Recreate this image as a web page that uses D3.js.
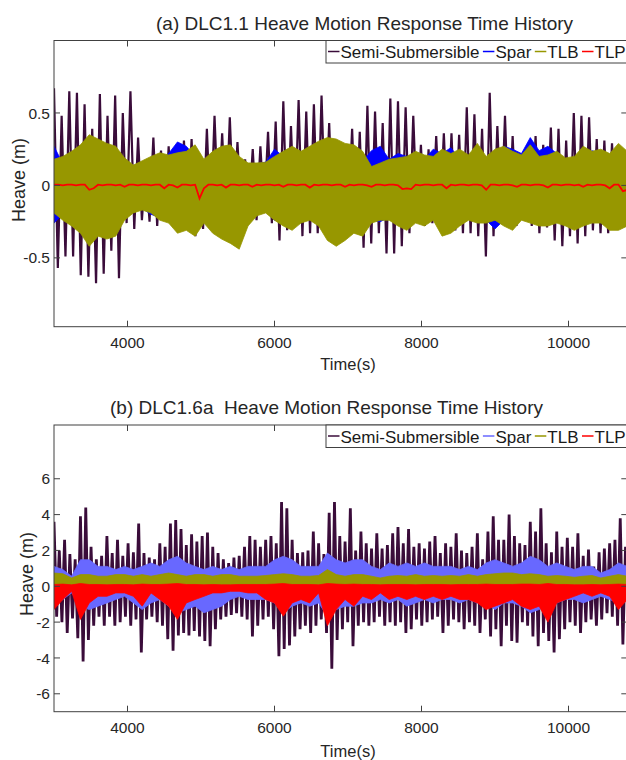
<!DOCTYPE html>
<html><head><meta charset="utf-8">
<script src="https://cdn.jsdelivr.net/npm/d3@7"></script>
<style>
body{margin:0;background:#fff;}
svg{display:block;font-family:"Liberation Sans",Arial,Helvetica,sans-serif;}
</style></head><body>
<svg id="chart" width="626" height="760"></svg>
<script>
// ---------- data ----------
const timeStart = 3000, timeEnd = 10800;
const xTicks = [4000, 6000, 8000, 10000];
const seriesNames = ["Semi-Submersible", "Spar", "TLB", "TLP"];
const yTicksA = [-0.5, 0, 0.5];
const yTicksB = [-6, -4, -2, 0, 2, 4, 6];

// sampling intervals (s) of the digitised records
const semiStepA = 104, semiStepB = 72, bandStep = 120, tlpStepA = 60;

// (a) DLC1.1 — Semi-Submersible successive crests / troughs (m)
const semiA_hi = [0.67,0.48,0.65,0.64,0.56,0.39,0.63,0.48,0.62,0.50,0.65,0.33,0.14,0.33,0.24,0.27,0.25,0.31,0.32,0.19,0.39,0.48,0.36,0.47,0.30,
  0.18,0.25,0.27,0.37,0.44,0.58,0.41,0.59,0.51,0.56,0.62,0.43,0.21,0.28,0.39,0.37,0.55,0.51,0.43,0.60,0.58,0.54,0.48,0.28,0.25,
  0.34,0.36,0.36,0.35,0.54,0.49,0.39,0.64,0.41,0.48,0.34,0.20,0.27,0.34,0.28,0.40,0.39,0.31,0.50,0.48,0.47,0.32,0.31,0.29,0.20];
const semiA_lo = [-0.57,-0.49,-0.49,-0.62,-0.63,-0.675,-0.61,-0.45,-0.64,
  -0.26,-0.30,-0.24,-0.25,-0.28,-0.24,-0.26,-0.28,-0.26,-0.35,-0.30,-0.28,-0.21,-0.24,-0.22,-0.19,
  -0.17,-0.24,-0.19,-0.26,-0.38,-0.31,-0.28,-0.35,-0.33,-0.33,-0.24,-0.30,-0.31,-0.24,-0.33,-0.43,-0.40,-0.33,-0.47,-0.47,-0.42,-0.33,-0.24,-0.28,-0.26,
  -0.24,-0.28,-0.31,-0.33,-0.33,-0.35,-0.49,-0.35,-0.26,-0.29,-0.28,-0.24,-0.28,-0.33,-0.29,-0.38,-0.42,-0.35,-0.40,-0.35,-0.31,-0.33,-0.33,-0.28,-0.25];
// (a) Spar upper / lower envelope (m)
const sparA_hi = [0.27,0.15,0.14,0.18,0.30,0.22,0.20,0.18,0.15,0.12,0.13,0.16,0.17,0.22,0.30,0.27,0.20,0.17,0.15,0.14,0.16,0.13,0.10,
  0.15,0.16,0.25,0.20,0.24,0.18,0.15,0.14,0.18,0.16,0.14,0.15,0.17,0.24,0.27,0.18,0.22,0.20,0.16,0.18,0.25,
  0.22,0.26,0.18,0.16,0.15,0.18,0.20,0.27,0.25,0.22,0.33,0.24,0.27,0.22,0.17,0.16,0.18,0.24,0.22,0.20,0.18,0.17];
const sparA_lo = [-0.26,-0.20,-0.19,-0.22,-0.24,-0.22,-0.22,-0.20,-0.19,-0.15,-0.16,-0.20,-0.22,-0.25,-0.32,-0.28,-0.24,-0.20,-0.22,-0.24,-0.22,-0.25,-0.20,
  -0.20,-0.18,-0.24,-0.25,-0.22,-0.20,-0.18,-0.22,-0.26,-0.25,-0.22,-0.20,-0.22,-0.24,-0.25,-0.22,-0.20,-0.24,-0.22,-0.21,-0.20,
  -0.24,-0.27,-0.22,-0.20,-0.21,-0.24,-0.30,-0.24,-0.25,-0.23,-0.22,-0.24,-0.20,-0.22,-0.25,-0.27,-0.24,-0.22,-0.20,-0.23,-0.24,-0.22];
// (a) TLB upper / lower envelope (m)
const tlbA_hi = [0.18,0.20,0.235,0.28,0.35,0.32,0.29,0.27,0.19,0.14,0.17,0.20,0.225,0.21,0.225,0.235,0.28,0.18,0.235,0.27,0.28,0.20,0.155,
  0.155,0.16,0.20,0.235,0.27,0.235,0.27,0.305,0.33,0.32,0.29,0.28,0.235,0.13,0.155,0.18,0.19,0.20,0.235,0.21,0.20,
  0.25,0.22,0.25,0.21,0.29,0.20,0.25,0.27,0.235,0.21,0.28,0.20,0.21,0.235,0.19,0.20,0.27,0.235,0.25,0.22,0.29,0.235];
const tlbA_lo = [-0.19,-0.24,-0.28,-0.33,-0.42,-0.35,-0.37,-0.35,-0.24,-0.19,-0.17,-0.19,-0.24,-0.26,-0.33,-0.31,-0.35,-0.26,-0.33,-0.37,-0.40,-0.44,-0.28,
  -0.21,-0.19,-0.24,-0.28,-0.31,-0.26,-0.24,-0.28,-0.38,-0.42,-0.38,-0.33,-0.35,-0.26,-0.24,-0.24,-0.28,-0.31,-0.26,-0.28,-0.24,
  -0.35,-0.33,-0.28,-0.24,-0.26,-0.26,-0.24,-0.28,-0.31,-0.24,-0.26,-0.28,-0.28,-0.26,-0.28,-0.31,-0.28,-0.26,-0.26,-0.31,-0.31,-0.28];
// (a) TLP record (m)
const tlpA = [0.005,0.005,0,0.005,0.005,0,0.005,0.005,-0.03,-0.02,
  0.005,0,0.005,0.005,0,0.005,-0.01,0.005,0.005,0,
  0.005,0.005,0,0.005,0.005,-0.02,0.005,0,-0.015,0.005,
  0.005,0,0.005,-0.09,-0.02,0.005,0.005,0,0.005,-0.015,
  0.005,0.005,0,0.005,0.005,-0.01,0.005,0,0.005,0.005,
  0,0.005,-0.01,0.005,0.005,0,0.005,0.005,-0.015,0.005,
  0,0.005,0.005,0,0.005,0.005,-0.01,0.005,0,0.005,
  0.005,0,-0.01,0.005,0.005,0,0.005,0.005,0,-0.025,
  -0.02,-0.025,0.005,0,0.005,0.005,0,0.005,0.005,-0.02,
  0.005,0,0.005,0.005,0,0.005,0.005,0,-0.03,0.005,
  0.005,0,0.005,0.005,0,-0.01,0.005,0.005,0,0.005,
  0.005,0,-0.015,0.005,0.005,0,0.005,0.005,0,0.005,
  -0.01,0.005,0,0.005,0.005,0,-0.02,0.005,0.005,-0.04,
  -0.03];

// (b) DLC1.6a — Semi-Submersible successive crests / troughs (m)
const semiB_hi = [3.6,2.0,2.6,1.8,1.5,3.9,4.4,2.2,1.5,1.7,2.8,1.85,2.6,1.7,2.4,1.9,3.5,1.85,1.6,1.5,2.4,2.2,3.5,3.7,3.2,2.3,2.9,2.5,2.8,3.0,2.2,1.85,1.5,1.3,1.6,1.7,2.2,
  2.8,2.6,2.2,2.6,2.8,2.4,4.7,4.35,2.6,1.85,1.9,2.0,3.05,2.4,1.8,4.1,4.7,2.8,2.5,4.35,2.0,3.05,2.4,2.1,2.95,2.1,2.3,2.95,3.3,2.4,3.2,2.2,2.4,2.1,2.5,2.8,
  1.85,2.4,2.2,2.95,2.0,1.85,2.2,2.95,1.5,3.05,3.9,2.6,2.6,4.0,2.8,2.4,2.3,3.6,3.05,4.35,2.4,1.9,3.05,2.2,2.7,2.2,2.95,1.7,2.05,1.1,1.9,2.1,2.4,2.6,3.8,2.2];
const semiB_lo = [-1.7,-2.0,-2.6,-1.8,-2.9,-4.2,-3.0,-2.2,-1.7,-2.2,-1.7,-2.2,-2.0,-1.7,-2.2,-1.85,-3.7,-1.85,-1.7,-2.0,-2.2,-2.95,-3.6,-2.75,-2.6,-2.75,-2.5,-2.8,-3.05,-3.35,-2.4,-1.85,-1.7,-1.6,-1.5,-1.7,-1.85,
  -2.8,-2.2,-1.85,-1.7,-2.4,-3.9,-3.5,-3.3,-2.8,-2.4,-2.2,-2.6,-2.2,-1.85,-2.6,-4.6,-3.0,-2.4,-2.0,-3.35,-2.2,-2.0,-2.2,-2.0,-1.7,-2.2,-2.0,-2.2,-2.0,-2.6,-2.4,-1.85,-2.2,-2.0,-1.85,-1.7,
  -2.6,-2.2,-1.85,-2.0,-2.4,-2.0,-2.2,-2.6,-1.85,-2.8,-2.4,-3.35,-2.2,-3.05,-3.15,-2.0,-2.2,-2.8,-3.35,-2.6,-3.05,-3.7,-2.95,-2.4,-2.0,-2.2,-2.6,-2.0,-1.85,-2.2,-1.85,-1.5,-1.7,-2.2,-3.25,-2.0];
// (b) Spar upper / lower envelope (m)
const sparB_hi = [1.11,0.93,0.56,1.48,1.48,1.11,1.11,0.93,1.11,0.93,1.11,1.30,1.11,1.48,1.67,1.30,1.11,0.93,1.11,0.93,1.11,0.93,1.11,
  1.11,1.11,1.48,1.67,1.48,1.11,1.11,1.11,1.85,1.48,1.30,1.48,1.48,1.11,0.93,1.30,1.11,1.30,1.11,1.30,1.11,
  1.11,1.11,0.93,1.11,0.93,1.30,1.48,1.30,1.11,1.30,1.67,1.48,1.11,1.30,1.11,0.93,1.11,1.11,0.74,0.93,1.30,1.11];
const sparB_lo = [-0.93,-0.74,-0.37,-1.11,-1.30,-1.11,-0.93,-0.74,-0.56,-0.93,-1.30,-0.93,-0.74,-1.11,-1.48,-1.30,-1.11,-1.48,-1.30,-1.11,-0.74,-0.56,-0.74,
  -0.74,-0.74,-0.93,-1.48,-1.11,-0.93,-1.11,-0.93,-1.67,-1.30,-1.11,-1.11,-0.93,-0.93,-0.74,-0.93,-0.74,-1.11,-0.93,-0.74,-0.93,
  -0.74,-0.74,-0.93,-0.74,-0.93,-0.93,-1.30,-0.93,-0.93,-1.11,-1.48,-1.30,-1.11,-0.93,-0.74,-0.74,-0.93,-0.74,-0.56,-0.74,-0.93,-0.74];
// (b) TLB upper / lower envelope (m)
const tlbB_hi = [0.74,0.70,0.46,0.65,0.65,0.56,0.56,0.65,0.65,0.56,0.65,0.56,0.65,0.74,0.65,0.56,0.65,0.65,0.56,0.65,0.65,0.56,0.56,
  0.56,0.60,0.65,0.70,0.65,0.56,0.56,0.60,0.93,0.65,0.56,0.65,0.65,0.56,0.46,0.56,0.60,0.56,0.65,0.56,0.60,
  0.56,0.60,0.56,0.65,0.56,0.65,0.70,0.74,0.74,0.65,0.70,0.65,0.56,0.60,0.56,0.50,0.56,0.60,0.46,0.56,0.65,0.56];
const tlbB_lo = [-0.28,-0.30,-0.20,-0.35,-0.37,-0.30,-0.28,-0.28,-0.25,-0.28,-0.33,-0.28,-0.28,-0.30,-0.37,-0.33,-0.30,-0.35,-0.33,-0.28,-0.25,-0.22,-0.25,
  -0.25,-0.25,-0.28,-0.35,-0.30,-0.28,-0.30,-0.28,-0.40,-0.33,-0.30,-0.30,-0.28,-0.28,-0.25,-0.28,-0.25,-0.30,-0.28,-0.25,-0.28,
  -0.25,-0.25,-0.28,-0.25,-0.28,-0.28,-0.33,-0.28,-0.28,-0.30,-0.35,-0.33,-0.30,-0.28,-0.25,-0.25,-0.28,-0.25,-0.22,-0.25,-0.28,-0.25];
// (b) TLP upper / lower envelope (m)
const tlpB_hi = [0.1,0.12,0.08,0.15,0.1,0.1,0.08,0.1,0.1,0.08,0.12,0.1,0.1,0.12,0.15,0.1,0.1,0.08,0.1,0.08,0.08,0.1,0.1,
  0.1,0.1,0.12,0.15,0.1,0.1,0.1,0.08,0.15,0.12,0.1,0.12,0.1,0.1,0.08,0.1,0.1,0.1,0.08,0.1,0.1,
  0.1,0.08,0.1,0.1,0.1,0.12,0.1,0.1,0.1,0.12,0.12,0.1,0.15,0.1,0.1,0.08,0.08,0.1,0.08,0.1,0.12,0.1];
const tlpB_lo = [-1.3,-0.74,-0.28,-1.85,-0.93,-0.56,-0.56,-0.37,-0.37,-0.56,-1.11,-0.37,-0.74,-1.11,-1.85,-0.93,-0.74,-0.56,-0.37,-0.37,-0.28,-0.28,-0.37,
  -0.37,-0.74,-0.93,-1.67,-0.93,-0.74,-0.93,-0.37,-2.2,-1.3,-0.74,-1.11,-0.56,-0.74,-0.37,-0.74,-0.56,-0.74,-0.56,-0.74,-0.56,
  -0.74,-0.56,-0.74,-0.74,-0.93,-1.30,-1.11,-0.93,-0.74,-1.11,-1.30,-1.11,-2.0,-0.93,-0.74,-0.56,-0.37,-0.56,-0.37,-0.56,-1.30,-0.74];

// ---------- drawing ----------
const svg = d3.select("#chart");
const axisColor = "#404040", textColor = "#262626";
const colPurple = "#3a0c3a", colOlive = "#979700", colRed = "#ff0000";
const left = 54, right = 627.3;
const x = d3.scaleLinear().domain([timeStart, timeEnd]).range([left, right]);
const defs = svg.append("defs");

// alternate crest / trough readings into one oscillating record
function zigzag(hi, lo, step) {
  const pts = [];
  hi.forEach((v, i) => {
    pts.push([timeStart + i * step, v]);
    pts.push([timeStart + i * step + step / 2, lo[i]]);
  });
  return pts;
}

function drawPanel(p) {
  const y = d3.scaleLinear().domain(p.yDomain).range([p.bottom, p.top]);
  const clipId = "clip" + p.id;
  defs.append("clipPath").attr("id", clipId).append("rect")
    .attr("x", left).attr("y", p.top).attr("width", right - left).attr("height", p.bottom - p.top);
  const plot = svg.append("g").attr("clip-path", `url(#${clipId})`);
  const line = d3.line().x(d => x(d[0])).y(d => y(d[1]));

  const osc = (hi, lo, step, color, w) => {
    plot.append("path").datum(zigzag(hi, lo, step)).attr("d", line)
      .attr("fill", "none").attr("stroke", color).attr("stroke-width", w)
      .attr("stroke-linejoin", "bevel");
  };
  const band = (hi, lo, color) => {
    const area = d3.area()
      .x((d, i) => x(timeStart + i * bandStep))
      .y0((d, i) => y(lo[i]))
      .y1((d, i) => y(hi[i]));
    plot.append("path").datum(hi).attr("d", area).attr("fill", color)
      .attr("stroke", color).attr("stroke-width", 0.8);
  };

  osc(p.semiHi, p.semiLo, p.semiStep, colPurple, p.semiWidth);
  band(p.sparHi, p.sparLo, p.sparColor);
  band(p.tlbHi, p.tlbLo, colOlive);
  if (p.tlpLine) {
    plot.append("path").datum(p.tlpLine)
      .attr("d", d3.line().x((d, i) => x(timeStart + i * tlpStepA)).y(d => y(d)))
      .attr("fill", "none").attr("stroke", colRed).attr("stroke-width", 1.8);
  } else {
    band(p.tlpHi, p.tlpLo, colRed);
  }

  // axes box
  svg.append("rect").attr("x", left).attr("y", p.top).attr("width", right - left)
    .attr("height", p.bottom - p.top).attr("fill", "none")
    .attr("stroke", axisColor).attr("stroke-width", 1);
  const tl = 6;
  xTicks.forEach(t => {
    const xx = x(t);
    svg.append("line").attr("x1", xx).attr("x2", xx).attr("y1", p.bottom).attr("y2", p.bottom - tl)
      .attr("stroke", axisColor);
    svg.append("line").attr("x1", xx).attr("x2", xx).attr("y1", p.top).attr("y2", p.top + tl)
      .attr("stroke", axisColor);
    svg.append("text").attr("x", xx).attr("y", p.xTickBase).attr("text-anchor", "middle")
      .attr("font-size", 15.5).attr("fill", textColor).text(t);
  });
  p.yTicks.forEach(v => {
    const yy = y(v);
    svg.append("line").attr("x1", left).attr("x2", left + tl).attr("y1", yy).attr("y2", yy)
      .attr("stroke", axisColor);
    svg.append("line").attr("x1", right).attr("x2", right - tl).attr("y1", yy).attr("y2", yy)
      .attr("stroke", axisColor);
    svg.append("text").attr("x", left - 4).attr("y", yy).attr("dy", "0.36em")
      .attr("text-anchor", "end").attr("font-size", 15.5).attr("fill", textColor).text(v);
  });

  // labels
  svg.append("text").attr("x", p.titleX).attr("y", p.titleY).attr("font-size", 19)
    .attr("fill", textColor).style("white-space", "pre").text(p.title);
  svg.append("text").attr("x", 348).attr("y", p.xLabelY).attr("text-anchor", "middle")
    .attr("font-size", 16.5).attr("fill", textColor).text("Time(s)");
  svg.append("text").attr("transform", `translate(${p.yLabelX},${p.yLabelY}) rotate(-90)`)
    .attr("text-anchor", "middle").attr("font-size", 18).attr("fill", textColor).text("Heave (m)");

  // legend
  const lg = svg.append("g");
  lg.append("rect").attr("x", 326).attr("y", p.top).attr("width", 320).attr("height", 22.5)
    .attr("fill", "#fff").attr("stroke", axisColor).attr("stroke-width", 1);
  const legendColors = [colPurple, p.sparColor, colOlive, colRed];
  let cx = 328;
  seriesNames.forEach((name, i) => {
    lg.append("line").attr("x1", cx).attr("x2", cx + 11.5)
      .attr("y1", p.top + 11).attr("y2", p.top + 11)
      .attr("stroke", legendColors[i]).attr("stroke-width", 1.5);
    const t = lg.append("text").attr("x", cx + 12.5).attr("y", p.top + 17.5)
      .attr("font-size", 17).attr("fill", "#1a1a1a").text(name);
    cx += 12.5 + t.node().getComputedTextLength() + 3.5;
  });
}

drawPanel({
  id: "A", top: 40.5, bottom: 326.7, yDomain: [-0.975, 1.0], yTicks: yTicksA,
  semiHi: semiA_hi, semiLo: semiA_lo, semiStep: semiStepA, semiWidth: 2.2,
  sparHi: sparA_hi, sparLo: sparA_lo, sparColor: "#0000ff",
  tlbHi: tlbA_hi, tlbLo: tlbA_lo, tlpLine: tlpA,
  title: "(a) DLC1.1 Heave Motion Response Time History", titleX: 156, titleY: 30,
  xTickBase: 348, xLabelY: 370, yLabelX: 25, yLabelY: 180
});
drawPanel({
  id: "B", top: 425, bottom: 711.7, yDomain: [-7, 9], yTicks: yTicksB,
  semiHi: semiB_hi, semiLo: semiB_lo, semiStep: semiStepB, semiWidth: 2.8,
  sparHi: sparB_hi, sparLo: sparB_lo, sparColor: "#6868ff",
  tlbHi: tlbB_hi, tlbLo: tlbB_lo, tlpHi: tlpB_hi, tlpLo: tlpB_lo,
  title: "(b) DLC1.6a  Heave Motion Response Time History", titleX: 110, titleY: 414,
  xTickBase: 733, xLabelY: 757, yLabelX: 33, yLabelY: 574
});
</script>
</body></html>
